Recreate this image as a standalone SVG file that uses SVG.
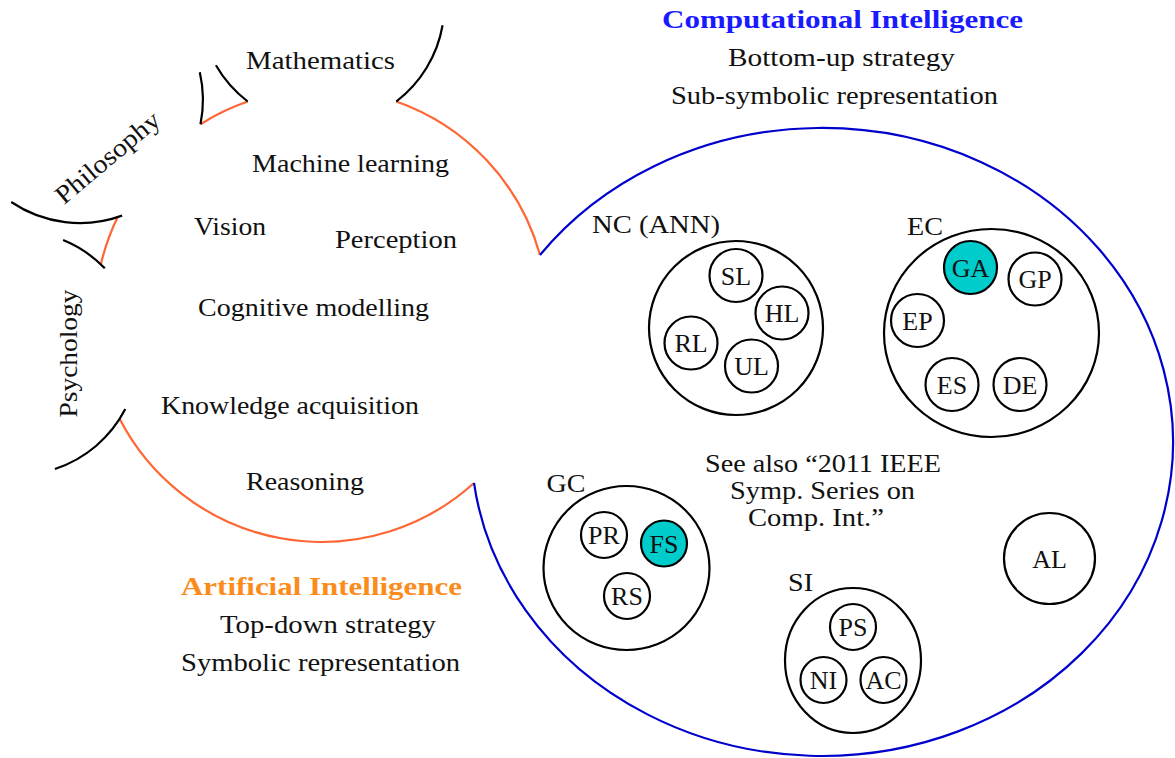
<svg xmlns="http://www.w3.org/2000/svg" width="1175" height="758" viewBox="0 0 1175 758">
<style>
  text { font-family: "Liberation Serif", "Times New Roman", serif; font-size: 26px; fill: #111; text-anchor: middle; }
  .bold { font-weight: bold; }
  .ci { fill: #1a1aff; }
  .ai { fill: #fb8c1c; }
  .orange { fill: none; stroke: #ff6633; stroke-width: 2.2; }
  .black { fill: none; stroke: #000; stroke-width: 2.2; }
  .blue { fill: none; stroke: #0000cc; stroke-width: 2.2; }
  .node { fill: #fff; stroke: #000; stroke-width: 2.2; }
  .hi { fill: #00cccc; stroke: #000; stroke-width: 2.2; }
</style>
<rect width="1175" height="758" fill="#fff"/>

<g id="ai-region">
  <path class="orange" d="M 396.3 101.5 A 227 227 0 0 1 540 255"/>
  <path class="orange" d="M 474 483 A 227 227 0 0 1 119.6 418.8"/>
  <path class="orange" d="M 100.8 264.6 A 227 227 0 0 1 117.7 217"/>
  <path class="orange" d="M 200.5 124.2 A 227 227 0 0 1 247.7 101.5"/>
  <text x="350.5" y="172" textLength="197" lengthAdjust="spacingAndGlyphs">Machine learning</text>
  <text x="230" y="235" textLength="72" lengthAdjust="spacingAndGlyphs">Vision</text>
  <text x="396" y="248" textLength="122" lengthAdjust="spacingAndGlyphs">Perception</text>
  <text x="313.5" y="316" textLength="231" lengthAdjust="spacingAndGlyphs">Cognitive modelling</text>
  <text x="290" y="414" textLength="258" lengthAdjust="spacingAndGlyphs">Knowledge acquisition</text>
  <text x="305" y="490" textLength="118" lengthAdjust="spacingAndGlyphs">Reasoning</text>
  <text class="bold ai" x="321.5" y="595" textLength="281" lengthAdjust="spacingAndGlyphs">Artificial Intelligence</text>
  <text x="328" y="633" textLength="216" lengthAdjust="spacingAndGlyphs">Top-down strategy</text>
  <text x="320.5" y="671" textLength="279" lengthAdjust="spacingAndGlyphs">Symbolic representation</text>
</g>

<g id="mathematics">
  <path class="black" d="M 215.9 65.3 A 122.5 122.5 0 0 0 247.7 101.5"/>
  <path class="black" d="M 396.3 101.5 A 122.5 122.5 0 0 0 442.6 25.3"/>
  <text x="320.5" y="69" textLength="149" lengthAdjust="spacingAndGlyphs">Mathematics</text>
</g>

<g id="philosophy">
  <path class="black" d="M 199.8 72.3 A 123 123 0 0 1 200.5 124.2"/>
  <path class="black" d="M 122.1 215.6 A 123 123 0 0 1 11.2 202"/>
  <text x="113" y="164" transform="rotate(-40 113 164)" textLength="128" lengthAdjust="spacingAndGlyphs">Philosophy</text>
</g>

<g id="psychology">
  <path class="black" d="M 63.1 240 A 122 122 0 0 1 104.8 268.3"/>
  <path class="black" d="M 125.3 409.1 A 122 122 0 0 1 54.9 469"/>
  <text x="77" y="353.5" transform="rotate(-90 77 353.5)" textLength="128" lengthAdjust="spacingAndGlyphs">Psychology</text>
</g>

<g id="ci-region">
  <path class="blue" d="M 540 255 A 351 314 0 1 1 474 483"/>
  <text class="bold ci" x="842.5" y="28" textLength="361" lengthAdjust="spacingAndGlyphs">Computational Intelligence</text>
  <text x="841.5" y="66" textLength="227" lengthAdjust="spacingAndGlyphs">Bottom-up strategy</text>
  <text x="834.5" y="104" textLength="327" lengthAdjust="spacingAndGlyphs">Sub-symbolic representation</text>
  <text x="823" y="472" textLength="236" lengthAdjust="spacingAndGlyphs">See also “2011 IEEE</text>
  <text x="822.5" y="499" textLength="185" lengthAdjust="spacingAndGlyphs">Symp. Series on</text>
  <text x="816" y="526" textLength="136" lengthAdjust="spacingAndGlyphs">Comp. Int.”</text>
</g>

<g id="NC">
  <circle class="node" cx="736" cy="328" r="87"/>
  <text x="656" y="233" textLength="128" lengthAdjust="spacingAndGlyphs">NC (ANN)</text>
</g>
<g id="SL"><circle class="node" cx="736" cy="275.5" r="26.5"/><text x="736" y="284.5">SL</text></g>
<g id="HL"><circle class="node" cx="782" cy="313" r="26.5"/><text x="782" y="322">HL</text></g>
<g id="RL"><circle class="node" cx="691" cy="343" r="26.5"/><text x="691" y="352">RL</text></g>
<g id="UL"><circle class="node" cx="751.5" cy="366" r="26.5"/><text x="751.5" y="375">UL</text></g>

<g id="EC">
  <ellipse class="node" cx="991.5" cy="333" rx="107.5" ry="104"/>
  <text x="925" y="235" textLength="36" lengthAdjust="spacingAndGlyphs">EC</text>
</g>
<g id="GA"><circle class="hi" cx="970.5" cy="267.5" r="26.5"/><text x="970.5" y="276.5">GA</text></g>
<g id="GP"><circle class="node" cx="1035" cy="279" r="26.5"/><text x="1035" y="288">GP</text></g>
<g id="EP"><circle class="node" cx="917.5" cy="320.5" r="26.5"/><text x="917.5" y="329.5">EP</text></g>
<g id="ES"><circle class="node" cx="952" cy="384.5" r="26.5"/><text x="952" y="393.5">ES</text></g>
<g id="DE"><circle class="node" cx="1020" cy="384.5" r="26.5"/><text x="1020" y="393.5">DE</text></g>

<g id="GC">
  <ellipse class="node" cx="626.5" cy="568" rx="83" ry="82"/>
  <text x="566" y="492" textLength="39" lengthAdjust="spacingAndGlyphs">GC</text>
</g>
<g id="PR"><circle class="node" cx="604" cy="535" r="23"/><text x="604" y="544">PR</text></g>
<g id="FS"><circle class="hi" cx="664" cy="543.5" r="23"/><text x="664" y="552.5">FS</text></g>
<g id="RS"><circle class="node" cx="627" cy="596" r="23"/><text x="627" y="605">RS</text></g>

<g id="SI">
  <ellipse class="node" cx="853" cy="660.5" rx="68" ry="72.5"/>
  <text x="800.5" y="591" textLength="25" lengthAdjust="spacingAndGlyphs">SI</text>
</g>
<g id="PS"><circle class="node" cx="853" cy="627" r="23"/><text x="853" y="636">PS</text></g>
<g id="NI"><circle class="node" cx="823.5" cy="680" r="23"/><text x="823.5" y="689">NI</text></g>
<g id="AC"><circle class="node" cx="883.5" cy="680" r="23"/><text x="883.5" y="689">AC</text></g>

<g id="AL"><circle class="node" cx="1049.5" cy="558.5" r="45.5"/><text x="1049.5" y="567.5">AL</text></g>

<g id="connectors"></g>
</svg>
